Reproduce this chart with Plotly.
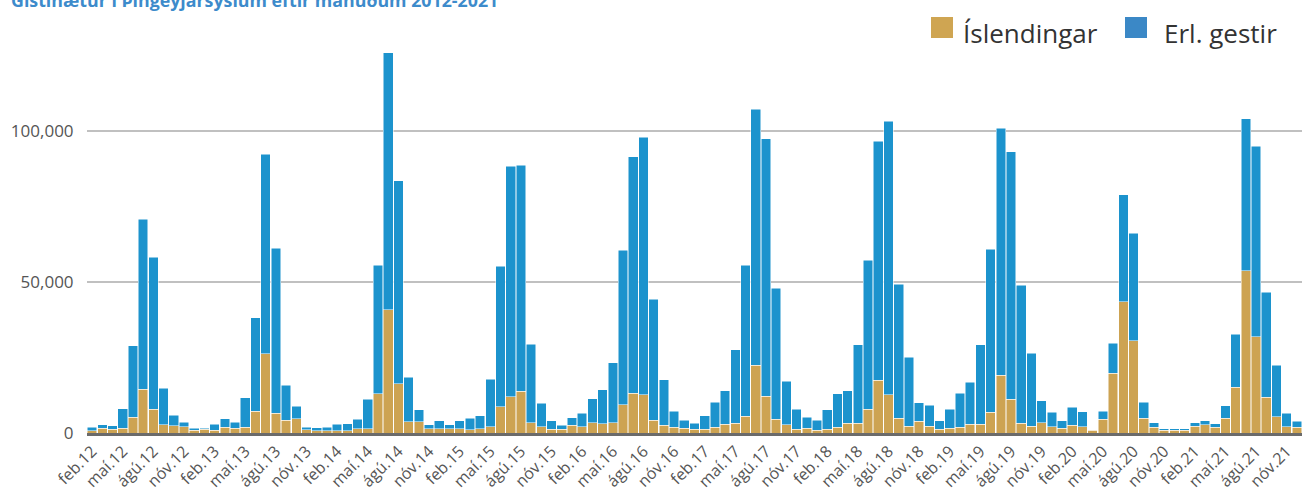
import plotly.graph_objects as go

# ---- data (Feb 2012 - Dec 2021) ----
MONTHS = ['jan', 'feb', 'mar', 'apr', 'maí', 'jún', 'júl', 'ágú', 'sep', 'okt', 'nóv', 'des']
YEARS = ['12', '13', '14', '15', '16', '17', '18', '19', '20', '21']
categories = [f"{m}.{y}" for y in YEARS for m in MONTHS][1:]  # starts feb.12

islendingar = [
    770, 1540, 1210, 1540, 5170, 14410, 7810, 2750, 2420, 2090, 880,
    1320, 880, 1870, 1540, 1870, 7150, 26290, 6490, 4180, 4730, 1100, 770,
    770, 770, 770, 1430, 1430, 12980, 40700, 16280, 3740, 3740, 1430, 1430,
    1430, 1430, 1100, 1430, 2090, 8690, 11990, 13750, 3410, 2090, 1210, 1210,
    2530, 2090, 3410, 3080, 3410, 9350, 13090, 12650, 4180, 2530, 1870, 1540,
    1210, 1210, 1870, 2860, 3190, 5500, 22330, 12100, 4510, 2750, 1210, 1540,
    880, 1210, 1870, 3190, 3190, 7810, 17380, 12650, 4840, 2200, 3850, 2200,
    1210, 1540, 1870, 2860, 2860, 6820, 19030, 11110, 3190, 2200, 3410, 2090,
    1540, 2530, 2090, 880, 4510, 19690, 43340, 30470, 4840, 1870, 880, 880,
    880, 2200, 2750, 1870, 4840, 15070, 53680, 31790, 11770, 5390, 2090, 1870,
]
erl_gestir = [
    1100, 1210, 1210, 6490, 23650, 56320, 50270, 11990, 3410, 1540, 660,
    330, 1980, 2860, 1980, 9790, 31020, 65890, 54670, 11660, 4070, 880, 990,
    1210, 2090, 2310, 3190, 9790, 42460, 85030, 67210, 14630, 3960, 1320, 2640,
    1320, 2640, 3850, 4290, 15730, 46420, 76230, 74800, 25960, 7700, 2860, 1320,
    2530, 4510, 7920, 11220, 19910, 51150, 78320, 85140, 40040, 15070, 5390, 2640,
    1980, 4510, 8250, 11110, 24420, 49940, 84700, 85250, 43340, 14410, 6710, 3740,
    3410, 6490, 11110, 10780, 25960, 49390, 79090, 90530, 44440, 22880, 6160, 6930,
    2860, 6380, 11330, 13970, 26400, 54010, 81730, 81950, 45650, 24200, 7260, 4840,
    2530, 6050, 4950, 220, 2640, 10010, 35530, 35640, 5280, 1540, 550, 550,
    550, 1210, 1320, 1210, 4180, 17600, 50270, 63030, 34760, 17050, 4510, 2090,
]
tick_labels = categories[0::3]

TITLE = "Gistinætur í Þingeyjarsýslum eftir mánuðum 2012-2021"
NAMES = ["Íslendingar", "Erl. gestir"]
C_ISL = "#cda352"
C_ERL = "#1c93cd"
C_ISL_LEG = "#cfa552"
C_ERL_LEG = "#3b88c6"

W, H = 1311, 497
ML, MR, MT, MB = 87, 9, 40, 64
PW, PH = W - ML - MR, H - MT - MB


def px(xp):
    return (xp - ML) / PW


def py(yp):
    return (H - MB - yp) / PH


fig = go.Figure()
fig.add_trace(go.Bar(x=categories, y=islendingar, name=NAMES[0], marker=dict(color=C_ISL, line=dict(color="white", width=0.5))))
fig.add_trace(go.Bar(x=categories, y=erl_gestir, name=NAMES[1], marker=dict(color=C_ERL, line=dict(color="white", width=0.5))))

shapes = [
    dict(type="rect", xref="paper", yref="paper", x0=px(931), x1=px(953), y0=py(38), y1=py(17),
         fillcolor=C_ISL_LEG, line=dict(width=0)),
    dict(type="rect", xref="paper", yref="paper", x0=px(1125), x1=px(1147), y0=py(38), y1=py(17),
         fillcolor=C_ERL_LEG, line=dict(width=0)),
]
annotations = [
    dict(text=NAMES[0], xref="paper", yref="paper", x=px(961), y=py(33), xanchor="left", yanchor="middle",
         showarrow=False, font=dict(family="Open Sans", size=26, color="#333333")),
    dict(text=NAMES[1], xref="paper", yref="paper", x=px(1162), y=py(33), xanchor="left", yanchor="middle",
         showarrow=False, font=dict(family="Open Sans", size=26, color="#333333")),
    dict(text=f"<b>{TITLE}</b>", xref="paper", yref="paper", x=px(9), y=py(0), xanchor="left", yanchor="middle",
         showarrow=False, font=dict(family="Open Sans", size=17.8, color="#3d8bcb")),
]

fig.update_layout(
    width=W, height=H,
    margin=dict(l=ML, r=MR, t=MT, b=MB, autoexpand=False),
    barmode="stack", bargap=0.06,
    showlegend=False,
    plot_bgcolor="white", paper_bgcolor="white",
    font=dict(family="Open Sans", color="#555555"),
    shapes=shapes, annotations=annotations,
    xaxis=dict(type="category", categoryorder="array", categoryarray=categories,
               tickmode="array", tickvals=tick_labels, ticktext=tick_labels, tickangle=-45,
               tickfont=dict(size=16, color="#555555"), showgrid=False, ticks="",
               showline=True, linecolor="#6b6b6b", linewidth=2.5, range=[-0.5, len(categories) - 0.5],
               automargin=False),
    yaxis=dict(range=[0, 130000], tickvals=[0, 50000, 100000], ticktext=["0", "50,000", "100,000"],
               tickfont=dict(size=17, color="#555555"), gridcolor="#c0c0c0", gridwidth=1.5,
               zeroline=False, ticks="outside", ticklen=9, tickcolor="rgba(0,0,0,0)", automargin=False),
)

fig.write_html("out.html", config={"displayModeBar": False},
               post_script="document.body.style.margin='0';document.body.style.overflow='hidden';")
